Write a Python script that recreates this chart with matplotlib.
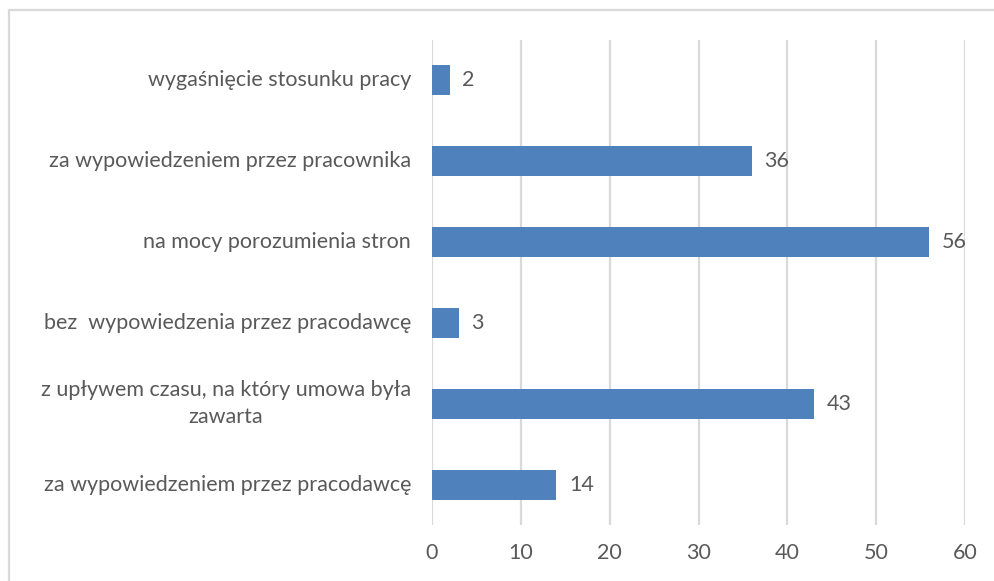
import matplotlib.pyplot as plt
from matplotlib.patches import Rectangle

categories = [
    "za wypowiedzeniem przez pracodawcę",
    "z upływem czasu, na który umowa była\nzawarta",
    "bez  wypowiedzenia przez pracodawcę",
    "na mocy porozumienia stron",
    "za wypowiedzeniem przez pracownika",
    "wygaśnięcie stosunku pracy",
]
values = [14, 43, 3, 56, 36, 2]
xticks = [0, 10, 20, 30, 40, 50, 60]

text_color = "#595959"
grid_color = "#d9d9d9"
bar_color = "#4f81bd"

plt.rcParams['font.family'] = ['Lato', 'DejaVu Sans']

fig = plt.figure(figsize=(9.94, 5.81), dpi=100)
ax = fig.add_axes([432 / 994, 56 / 581, 533 / 994, 485 / 581])

ypos = list(range(len(categories)))
bars = ax.barh(ypos, values, height=0.37, color=bar_color, zorder=3)

for y, v in zip(ypos, values):
    ax.annotate(str(v), (v, y), xytext=(9, 0), textcoords="offset points",
                va="center", ha="left", fontsize=15.5, color=text_color)

# category labels drawn as text so the wrapped one can be centred
for y, cat in zip(ypos, categories):
    ax.annotate(cat, (0, y), xycoords=("axes fraction", "data"),
                xytext=(-15, 0), textcoords="offset points",
                ha="right", va="center", multialignment="center",
                linespacing=1.45, fontsize=15.5, color=text_color)

ax.set_xlim(0, 60)
ax.set_ylim(-0.5, len(categories) - 0.5)
ax.set_xticks(xticks)
ax.set_yticks(ypos)
ax.set_yticklabels([])
ax.tick_params(axis="y", length=0)
ax.tick_params(axis="x", length=0, pad=13, labelsize=15.5, labelcolor=text_color)
ax.xaxis.grid(True, color=grid_color, linewidth=1.6, zorder=0)
for s in ax.spines.values():
    s.set_visible(False)

# outer chart border (cropped on right and bottom)
fig.patches.append(Rectangle((9 / 994, -0.1), 1.2, 1 - 10 / 581 + 0.1,
                             transform=fig.transFigure, fill=False,
                             edgecolor=grid_color, linewidth=1.6))

fig.savefig("out.png", dpi=100)
